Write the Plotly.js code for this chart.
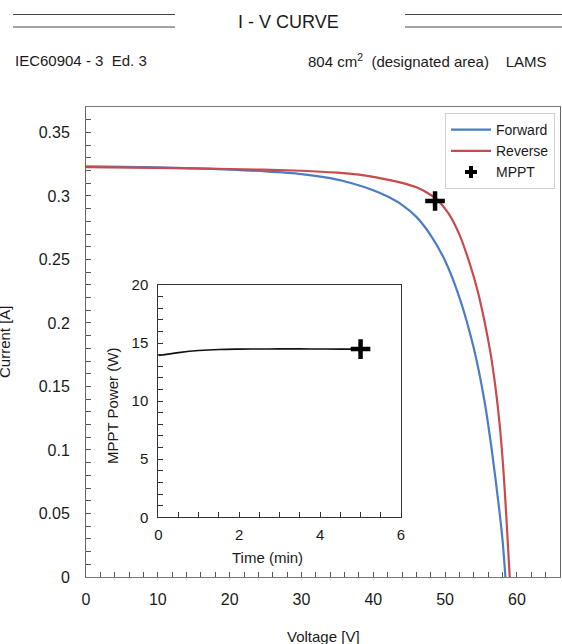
<!DOCTYPE html>
<html><head><meta charset="utf-8">
<script src="https://cdn.plot.ly/plotly-3.0.1.min.js"></script>
<style>html,body{margin:0;padding:0;background:#fff;} #chart{width:562px;height:644px;}</style>
</head><body><div id="chart"></div>
<script>
// ---- data ----
const forwardVoltage = [0, 5, 10, 15, 20, 25, 30, 34, 37, 40, 42, 44, 46, 48, 50, 52, 54, 55.5, 56.5, 57.5, 58.0, 58.4];
const forwardCurrent = [0.3232, 0.3229, 0.3224, 0.3217, 0.3207, 0.3193, 0.3172, 0.3140, 0.3100, 0.3045, 0.2995, 0.2930, 0.2835, 0.2690, 0.2490, 0.2200, 0.1800, 0.1380, 0.1000, 0.0550, 0.0290, 0.0];
const reverseVoltage = [0, 10, 20, 30, 35, 38, 40, 42, 44, 46, 47.5, 49, 50.5, 52, 53.5, 54.5, 55.5, 56.3, 57.0, 57.6, 58.1, 58.5, 59.0];
const reverseCurrent = [0.3226, 0.3220, 0.3212, 0.3198, 0.3183, 0.3167, 0.3150, 0.3128, 0.3103, 0.3068, 0.3025, 0.2965, 0.2860, 0.2695, 0.2455, 0.2260, 0.2010, 0.1770, 0.1500, 0.1200, 0.0860, 0.0500, 0.0];
const mpptVoltage = [48.6];
const mpptCurrent = [0.296];
const mpptTime = [0, 0.5, 1, 1.5, 2, 2.5, 3, 3.5, 4, 4.5, 5];
const mpptPower = [13.93, 14.18, 14.36, 14.45, 14.48, 14.49, 14.50, 14.50, 14.49, 14.48, 14.48];
const mpptEndTime = [5];
const mpptEndPower = [14.48];
const seriesNames = ['Forward', 'Reverse', 'MPPT'];

// ---- layout helpers (pixel -> paper) ----
const L = 86, R = 560, T = 107, B = 577;
const PX = p => (p - L) / (R - L);
const PY = p => (B - p) / (B - T);
const FONT = 'Arial, "Liberation Sans", Helvetica, sans-serif';
const TXT = '#1a1a1a';

const traces = [
  {x: forwardVoltage, y: forwardCurrent, name: seriesNames[0], mode: 'lines',
   line: {color: '#4A7DC5', width: 2.2, shape: 'spline', smoothing: 0.8}},
  {x: reverseVoltage, y: reverseCurrent, name: seriesNames[1], mode: 'lines',
   line: {color: '#C94A4D', width: 2.2, shape: 'spline', smoothing: 0.8}},
  {x: [null], y: [null], name: seriesNames[2], mode: 'markers',
   marker: {symbol: 'cross', size: 10, color: '#000'}},
  {x: mpptVoltage, y: mpptCurrent, mode: 'markers', showlegend: false,
   marker: {symbol: 'cross-thin', size: 14, line: {width: 4.5, color: '#000'}, color: '#000'}},
  {x: mpptTime, y: mpptPower, xaxis: 'x2', yaxis: 'y2', mode: 'lines', showlegend: false,
   line: {color: '#111', width: 1.6, shape: 'spline'}},
  {x: mpptEndTime, y: mpptEndPower, xaxis: 'x2', yaxis: 'y2', mode: 'markers', showlegend: false,
   marker: {symbol: 'cross-thin', size: 14, line: {width: 4.5, color: '#000'}, color: '#000'}}
];

const axBase = {
  showline: true, mirror: true, zeroline: false, showgrid: false,
  ticks: 'inside', ticklen: 5, tickwidth: 1, fixedrange: true
};

const layout = {
  width: 562, height: 644,
  margin: {l: L, r: 562 - R, t: T, b: 644 - B, pad: 0},
  paper_bgcolor: '#fff', plot_bgcolor: '#fff',
  font: {family: FONT, color: TXT, size: 15},
  showlegend: true,
  legend: {x: PX(555), y: PY(113), xanchor: 'right', yanchor: 'top',
           bgcolor: '#fff', bordercolor: '#cfcfcf', borderwidth: 1,
           itemwidth: 40,
           font: {size: 14, color: TXT}},
  xaxis: Object.assign({}, axBase, {
    range: [0, 66], tick0: 0, dtick: 10, linecolor: '#777', tickcolor: '#555',
    tickfont: {size: 16, color: TXT}, ticklabelstandoff: 8,
    minor: {dtick: 2, ticks: 'inside', ticklen: 5, tickcolor: '#555'}
  }),
  yaxis: Object.assign({}, axBase, {
    range: [0, 0.37], tick0: 0, dtick: 0.05, linecolor: '#666', tickcolor: '#555',
    tickfont: {size: 16, color: TXT}, ticklabelstandoff: 12,
    minor: {dtick: 0.01, ticks: 'inside', ticklen: 5, tickcolor: '#555'}
  }),
  xaxis2: Object.assign({}, axBase, {
    domain: [PX(158.3), PX(401)], anchor: 'y2',
    range: [0, 6], tick0: 0, dtick: 2, linecolor: '#333', tickcolor: '#333',
    tickfont: {size: 15, color: TXT}, ticklabelstandoff: 4,
    minor: {dtick: 0.5, ticks: 'inside', ticklen: 5, tickcolor: '#333'}
  }),
  yaxis2: Object.assign({}, axBase, {
    domain: [PY(517.3), PY(285)], anchor: 'x2',
    range: [0, 20], tick0: 0, dtick: 5, linecolor: '#333', tickcolor: '#333',
    tickfont: {size: 15, color: TXT}, ticklabelstandoff: 6,
    minor: {dtick: 1, ticks: 'inside', ticklen: 5, tickcolor: '#333'}
  }),
  shapes: [
    {type: 'line', xref: 'paper', yref: 'paper', x0: PX(13), x1: PX(175), y0: PY(14.5), y1: PY(14.5), line: {color: '#444', width: 1}},
    {type: 'line', xref: 'paper', yref: 'paper', x0: PX(13), x1: PX(175), y0: PY(27), y1: PY(27), line: {color: '#444', width: 1}},
    {type: 'line', xref: 'paper', yref: 'paper', x0: PX(405), x1: PX(562), y0: PY(14.5), y1: PY(14.5), line: {color: '#444', width: 1}},
    {type: 'line', xref: 'paper', yref: 'paper', x0: PX(405), x1: PX(562), y0: PY(27), y1: PY(27), line: {color: '#444', width: 1}}
  ],
  annotations: [
    {text: 'I - V CURVE', xref: 'paper', yref: 'paper', x: PX(288), y: PY(22), xanchor: 'center', yanchor: 'middle', showarrow: false, font: {size: 18, color: TXT}},
    {text: 'IEC60904 - 3\u00a0\u00a0Ed. 3', xref: 'paper', yref: 'paper', x: PX(13), y: PY(61), xanchor: 'left', yanchor: 'middle', showarrow: false, font: {size: 15, color: TXT}},
    {text: '804 cm<sup>2</sup>\u00a0\u00a0(designated area)\u00a0\u00a0\u00a0\u00a0LAMS', xref: 'paper', yref: 'paper', x: PX(548), y: PY(61), xanchor: 'right', yanchor: 'middle', showarrow: false, font: {size: 15, color: TXT}},
    {text: 'Voltage [V]', xref: 'paper', yref: 'paper', x: PX(323), y: PY(636), xanchor: 'center', yanchor: 'middle', showarrow: false, font: {size: 15, color: TXT}},
    {text: 'Current [A]', xref: 'paper', yref: 'paper', x: PX(4), y: PY(342), xanchor: 'center', yanchor: 'middle', textangle: -90, showarrow: false, font: {size: 15, color: TXT}},
    {text: 'MPPT Power (W)', xref: 'paper', yref: 'paper', x: PX(112), y: PY(406), xanchor: 'center', yanchor: 'middle', textangle: -90, showarrow: false, font: {size: 15, color: TXT}},
    {text: 'Time (min)', xref: 'paper', yref: 'paper', x: PX(267), y: PY(557), xanchor: 'center', yanchor: 'middle', showarrow: false, font: {size: 15, color: TXT}}
  ]
};

Plotly.newPlot('chart', traces, layout, {displayModeBar: false, staticPlot: true});
</script>
</body></html>
